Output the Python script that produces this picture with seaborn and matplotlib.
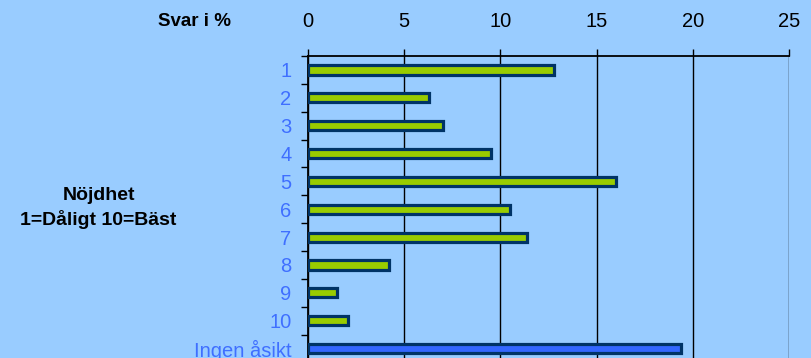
import pandas as pd
import matplotlib.pyplot as plt
import seaborn as sns

# Data
categories = ['1', '2', '3', '4', '5', '6', '7', '8', '9', '10', 'Ingen åsikt']
values = [12.8, 6.3, 7.0, 9.5, 16.0, 10.5, 11.4, 4.2, 1.5, 2.1, 19.4]
bar_colors = ['#99CC00'] * 10 + ['#3366FF']
x_ticks = [0, 5, 10, 15, 20, 25]

BG = '#99CCFF'
EDGE = '#003366'
LABEL_BLUE = '#3F6FFF'

sns.set_theme(style="white")
plt.rcParams['font.family'] = ['Liberation Sans', 'DejaVu Sans']

df = pd.DataFrame({'kategori': categories, 'procent': values})

fig = plt.figure(figsize=(8.11, 3.58), dpi=100, facecolor=BG)
# plot area runs past the bottom edge, as in the reference
ax = fig.add_axes([308 / 811, 1 - 362.5 / 358, 481 / 811, 306.5 / 358])
ax.set_facecolor(BG)

sns.barplot(data=df, x='procent', y='kategori', hue='kategori', palette=bar_colors,
            legend=False, orient='h', width=0.33, edgecolor=EDGE, linewidth=2.3,
            saturation=1, ax=ax, zorder=3)

ax.set_xlim(0, 25)
ax.set_ylim(len(categories) - 0.5, -0.5)
ax.set_xticks(x_ticks)
ax.xaxis.tick_top()
ax.tick_params(axis='x', which='major', direction='out', length=5, width=1, color='black',
               labelsize=14.5, labelcolor='black', pad=13, top=True, bottom=False)
ax.tick_params(axis='y', which='major', length=0, labelsize=14.5, labelcolor=LABEL_BLUE, pad=12)
ax.set_yticks(range(len(categories)), categories)
ax.set_yticks([i + 0.5 for i in range(-1, len(categories) - 1)], minor=True)
ax.tick_params(axis='y', which='minor', direction='out', length=5, width=1, color='black', left=True)

ax.grid(axis='x', color='black', linewidth=1, zorder=0)
ax.grid(axis='y', visible=False)
ax.set_axisbelow(True)
for side in ['top', 'left']:
    ax.spines[side].set_color('black')
    ax.spines[side].set_linewidth(1.3)
ax.spines['right'].set_visible(False)
ax.spines['bottom'].set_visible(False)

ax.set_xlabel('')
ax.set_ylabel('')

fig.text(195 / 811, 1 - 21 / 358, 'Svar i %', ha='center', va='center',
         fontsize=13.5, fontweight='bold', color='black')
fig.text(98.5 / 811, 1 - 208 / 358, 'Nöjdhet\n1=Dåligt 10=Bäst', ha='center', va='center',
         fontsize=14, fontweight='bold', color='black', linespacing=1.4)

plt.savefig('out.png', dpi=100, facecolor=BG)
